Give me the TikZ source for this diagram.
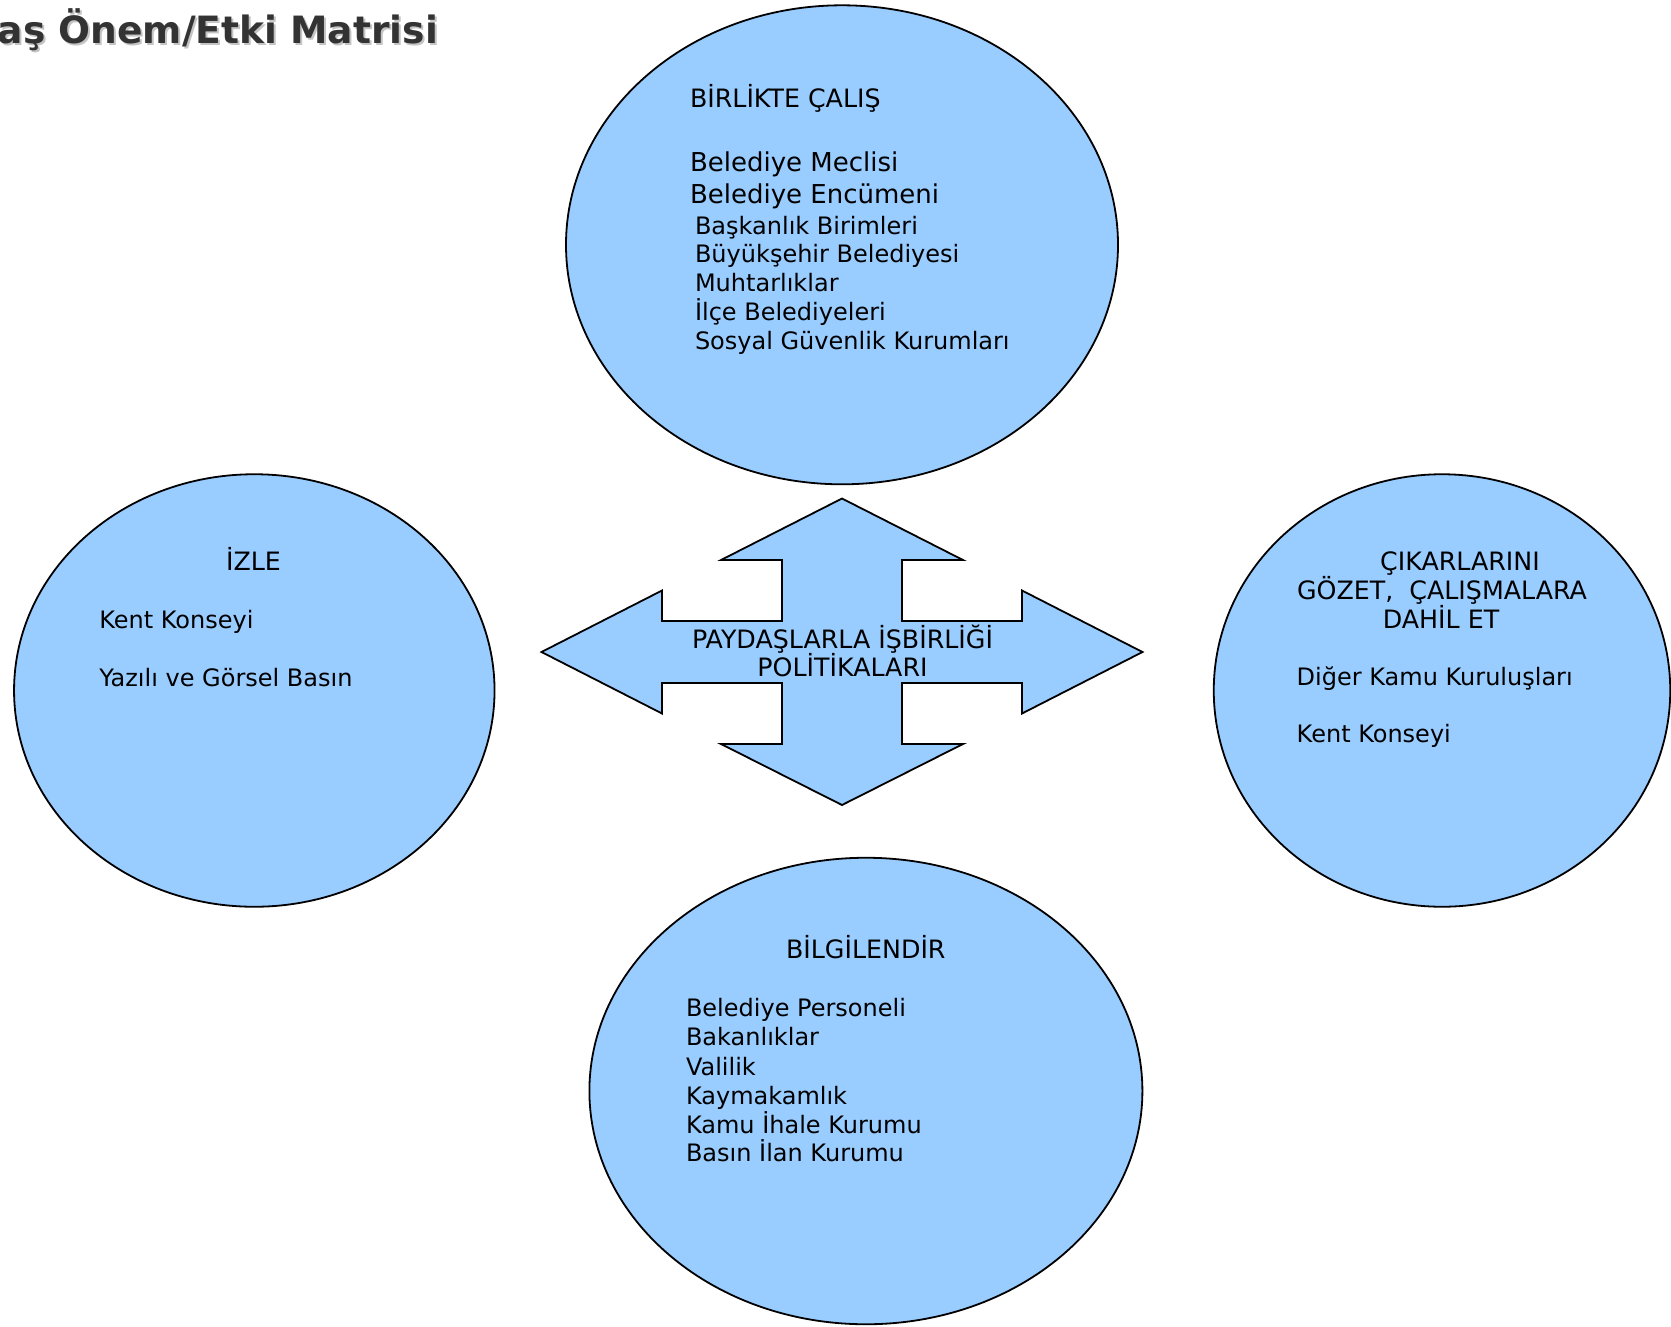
\documentclass[tikz,border=0pt]{standalone}
\usepackage{fontspec}
\setmainfont{DejaVu Sans}
\usetikzlibrary{shapes.geometric}
\definecolor{blobblue}{HTML}{99CCFF}
\definecolor{titlegray}{HTML}{333333}
\definecolor{shadowgray}{HTML}{C4C4C4}
\tikzset{
  blob/.style={ellipse, draw=black, line width=1.8pt, fill=blobblue, inner sep=0pt},
  lbl/.style={inner sep=0pt, outer sep=0pt, text=black, font=\fontsize{24}{29}\selectfont},
  caplbl/.style={inner sep=0pt, outer sep=0pt, text=black, font=\fontsize{25.3}{30}\selectfont},
  biglbl/.style={inner sep=0pt, outer sep=0pt, text=black, font=\fontsize{26}{31}\selectfont},
  arrowshape/.style={draw=black, line width=1.8pt, fill=blobblue, line join=miter},
  titletext/.style={inner sep=0pt, outer sep=0pt, font=\fontsize{37.6}{44}\selectfont\bfseries}
}
\begin{document}
\begin{tikzpicture}[x=1pt,y=-1pt]
\useasboundingbox (0,0) rectangle (1671,1326);
\fill[white] (0,0) rectangle (1671,1326);

% title
\node[titletext, text=shadowgray, anchor=base east] (titleshadow) at (440,45.5) {aş Önem/Etki Matrisi};
\node[titletext, text=titlegray, anchor=base east] (title) at (438,43.5) {aş Önem/Etki Matrisi};

% ellipses
\node[blob, minimum width=552pt, minimum height=479pt] (top) at (842,244.8) {};
\node[blob, minimum width=480.5pt, minimum height=432.5pt] (left) at (254.3,690.5) {};
\node[blob, minimum width=456.5pt, minimum height=432.5pt] (right) at (1442,690.5) {};
\node[blob, minimum width=553pt, minimum height=466.5pt] (bottom) at (865.9,1091) {};

% central four-way arrow
\draw[arrowshape] (842,498.5) -- (963,560) -- (902,560) -- (902,621) -- (1022,621)
  -- (1022,590.5) -- (1142.5,652) -- (1022,713.5) -- (1022,683) -- (902,683)
  -- (902,744) -- (963,744) -- (842,805) -- (721,744) -- (782,744) -- (782,683)
  -- (662,683) -- (662,713.5) -- (541.5,652) -- (662,590.5) -- (662,621)
  -- (782,621) -- (782,560) -- (721,560) -- cycle;
\node[caplbl, anchor=base] (c1) at (842.5,648.3) {PAYDAŞLARLA İŞBİRLİĞİ};
\node[caplbl, anchor=base] (c2) at (842.5,676.7) {POLİTİKALARI};

% top ellipse text
\node[caplbl, anchor=base west] (t0) at (690,107.7) {BİRLİKTE ÇALIŞ};
\node[biglbl, anchor=base west] (t1) at (690,171.7) {Belediye Meclisi};
\node[biglbl, anchor=base west] (t2) at (690,203.3) {Belediye Encümeni};
\node[lbl, anchor=base west] (t3) at (695,234) {Başkanlık Birimleri};
\node[lbl, anchor=base west] (t4) at (695,262.3) {Büyükşehir Belediyesi};
\node[lbl, anchor=base west] (t5) at (695,291.7) {Muhtarlıklar};
\node[lbl, anchor=base west] (t6) at (695,320.7) {İlçe Belediyeleri};
\node[lbl, anchor=base west] (t7) at (695,349.3) {Sosyal Güvenlik Kurumları};

% left ellipse text
\node[caplbl, anchor=base] (l0) at (253.5,570) {İZLE};
\node[lbl, anchor=base west] (l1) at (99.3,628.3) {Kent Konseyi};
\node[lbl, anchor=base west] (l2) at (99.3,686.7) {Yazılı ve Görsel Basın};

% right ellipse text
\node[caplbl, anchor=base] (r0) at (1460,570) {ÇIKARLARINI};
\node[caplbl, anchor=base] (r1) at (1442,599) {GÖZET,\ \ ÇALIŞMALARA};
\node[caplbl, anchor=base] (r2) at (1441,628.3) {DAHİL ET};
\node[lbl, anchor=base west] (r3) at (1296.7,685.7) {Diğer Kamu Kuruluşları};
\node[lbl, anchor=base west] (r4) at (1296.7,742.7) {Kent Konseyi};

% bottom ellipse text
\node[caplbl, anchor=base] (b0) at (865.8,958.3) {BİLGİLENDİR};
\node[lbl, anchor=base west] (b1) at (686,1016.7) {Belediye Personeli};
\node[lbl, anchor=base west] (b2) at (686,1045.7) {Bakanlıklar};
\node[lbl, anchor=base west] (b3) at (686,1075) {Valilik};
\node[lbl, anchor=base west] (b4) at (686,1104.3) {Kaymakamlık};
\node[lbl, anchor=base west] (b5) at (686,1133.3) {Kamu İhale Kurumu};
\node[lbl, anchor=base west] (b6) at (686,1161.7) {Basın İlan Kurumu};
\end{tikzpicture}
\end{document}
